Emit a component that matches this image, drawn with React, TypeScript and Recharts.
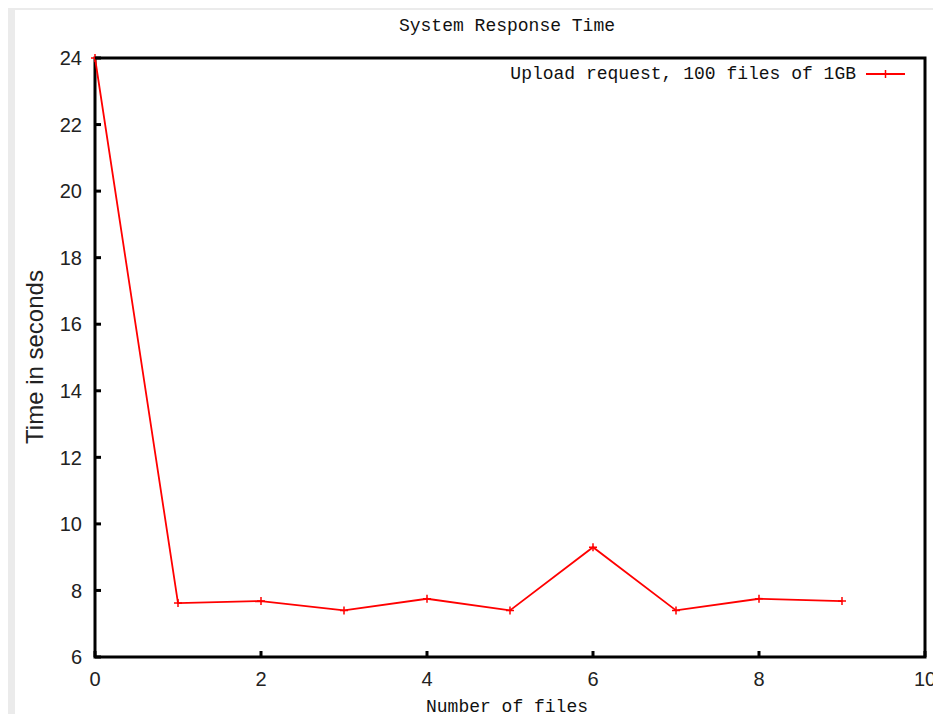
import React from "react";
import { LineChart, Line, XAxis, YAxis, ReferenceArea } from "recharts";

const fileCounts = [0, 1, 2, 3, 4, 5, 6, 7, 8, 9];
const responseTimes = [24, 7.62, 7.68, 7.4, 7.75, 7.4, 9.3, 7.4, 7.75, 7.68];
const xTicks = [0, 2, 4, 6, 8, 10];
const yTicks = [6, 8, 10, 12, 14, 16, 18, 20, 22, 24];
const seriesName = "Upload request, 100 files of 1GB";

const data = fileCounts.map((x, i) => ({ x, t: responseTimes[i] }));

const RED = "#ff0000";
const MONO = "'Liberation Mono', 'DejaVu Sans Mono', monospace";
const SANS = "'Liberation Sans', Arial, sans-serif";
const TICK_LEN = 6;
const TICK_W = 3;
const X_GAP = 12;
const Y_GAP = 13;

const PlusDot = (props: any) => {
  const { cx, cy, index } = props;
  if (cx == null || cy == null) return <g key={index} />;
  return (
    <path
      key={index}
      d={`M${cx - 4},${cy}h8M${cx},${cy - 4}v8`}
      stroke={RED}
      strokeWidth={1.5}
      fill="none"
    />
  );
};

const BottomTick = (props: any) => {
  const { x, y, payload } = props;
  const axisY = y - X_GAP;
  return (
    <g>
      <line x1={x} x2={x} y1={axisY} y2={axisY - TICK_LEN} stroke="#000" strokeWidth={TICK_W} />
      <text x={x} y={y} dy="0.85em" textAnchor="middle" fill="#222" fontSize={20} fontFamily={SANS}>
        {payload.value}
      </text>
    </g>
  );
};

const TopTick = (props: any) => {
  const { x, y } = props;
  return <line x1={x} x2={x} y1={y} y2={y + TICK_LEN} stroke="#000" strokeWidth={TICK_W} />;
};

const LeftTick = (props: any) => {
  const { x, y, payload } = props;
  const axisX = x + Y_GAP;
  return (
    <g>
      <line x1={axisX} x2={axisX + TICK_LEN} y1={y} y2={y} stroke="#000" strokeWidth={TICK_W} />
      <text x={x} y={y} dy="0.36em" textAnchor="end" fill="#222" fontSize={20} fontFamily={SANS}>
        {payload.value}
      </text>
    </g>
  );
};

const RightTick = (props: any) => {
  const { x, y } = props;
  return <line x1={x} x2={x - TICK_LEN} y1={y} y2={y} stroke="#000" strokeWidth={TICK_W} />;
};

export default function App() {
  return (
    <div style={{ position: "relative", width: 941, height: 722, margin: -8, background: "#ebebeb", overflow: "hidden" }}>
      <div style={{ position: "absolute", left: 15, top: 10, right: 0, bottom: 0, background: "#ffffff" }} />
      <div style={{ position: "absolute", left: 0, top: 0 }}>
        <LineChart
          width={941}
          height={722}
          data={data}
          margin={{ top: 58, right: 16, bottom: 35, left: 35 }}
        >
          <XAxis
            xAxisId="bottom"
            dataKey="x"
            type="number"
            domain={[0, 10]}
            ticks={xTicks}
            height={30}
            axisLine={false}
            tickLine={false}
            tickSize={0}
            tickMargin={X_GAP}
            tick={BottomTick}
            interval={0}
          />
          <XAxis
            xAxisId="top"
            orientation="top"
            dataKey="x"
            type="number"
            domain={[0, 10]}
            ticks={xTicks}
            height={0}
            axisLine={false}
            tickLine={false}
            tickSize={0}
            tickMargin={0}
            tick={TopTick}
            interval={0}
          />
          <YAxis
            yAxisId="left"
            type="number"
            domain={[6, 24]}
            ticks={yTicks}
            width={60}
            axisLine={false}
            tickLine={false}
            tickSize={0}
            tickMargin={Y_GAP}
            tick={LeftTick}
            interval={0}
          />
          <YAxis
            yAxisId="right"
            orientation="right"
            type="number"
            domain={[6, 24]}
            ticks={yTicks}
            width={0}
            axisLine={false}
            tickLine={false}
            tickSize={0}
            tickMargin={0}
            tick={RightTick}
            interval={0}
          />
          <ReferenceArea
            xAxisId="bottom"
            yAxisId="left"
            x1={0}
            x2={10}
            y1={6}
            y2={24}
            fill="none"
            stroke="#000"
            strokeWidth={3}
            fillOpacity={0}
          />
          <Line
            xAxisId="bottom"
            yAxisId="left"
            type="linear"
            dataKey="t"
            name={seriesName}
            stroke={RED}
            strokeWidth={1.8}
            dot={PlusDot}
            activeDot={false}
            isAnimationActive={false}
          />
        </LineChart>
      </div>
      <div style={{ position: "absolute", left: 307, width: 400, top: 16, textAlign: "center", fontFamily: MONO, fontSize: 18, lineHeight: "20px", color: "#111" }}>
        System Response Time
      </div>
      <div style={{ position: "absolute", right: 36, top: 64, display: "flex", alignItems: "center", gap: 10, fontFamily: MONO, fontSize: 18, lineHeight: "20px", color: "#111" }}>
        <span>{seriesName}</span>
        <svg width={39} height={20}>
          <line x1={0} y1={10} x2={39} y2={10} stroke={RED} strokeWidth={2} />
          <path d="M19.5,6v8" stroke={RED} strokeWidth={1.5} />
        </svg>
      </div>
      <div style={{ position: "absolute", left: 307, width: 400, top: 697, textAlign: "center", fontFamily: MONO, fontSize: 18, lineHeight: "20px", color: "#111" }}>
        Number of files
      </div>
      <div style={{ position: "absolute", left: 35 - 120, width: 240, top: 357 - 14, height: 28, textAlign: "center", transform: "rotate(-90deg)", fontFamily: SANS, fontSize: 24, lineHeight: "28px", color: "#222" }}>
        Time in seconds
      </div>
    </div>
  );
}
